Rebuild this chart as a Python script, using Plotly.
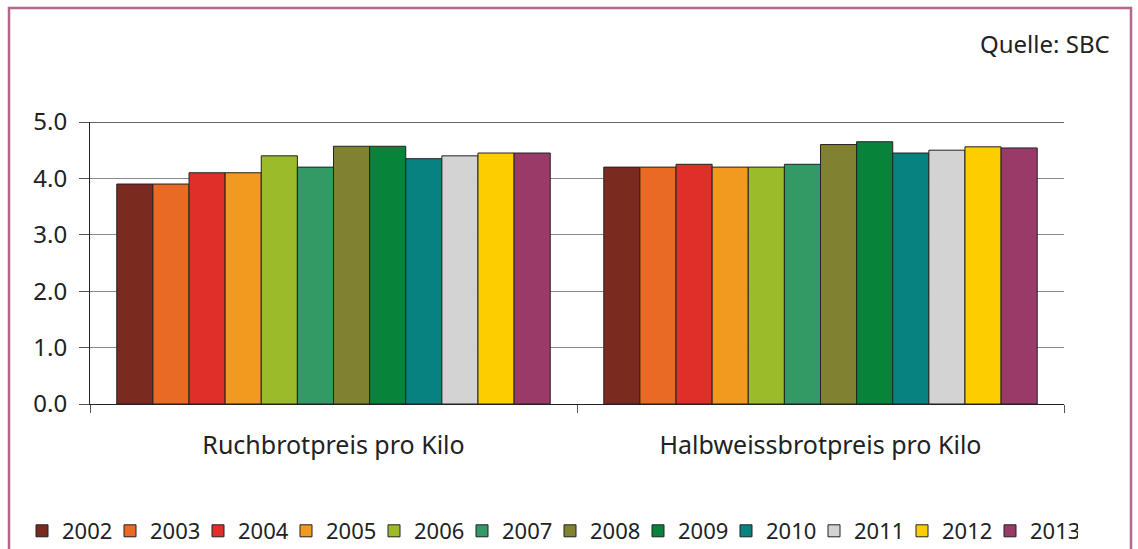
import plotly.graph_objects as go

# Bread price per kilo (CHF), by year
categories = ["Ruchbrotpreis pro Kilo", "Halbweissbrotpreis pro Kilo"]
years = ["2002", "2003", "2004", "2005", "2006", "2007",
         "2008", "2009", "2010", "2011", "2012", "2013"]
ruchbrot = [3.90, 3.90, 4.10, 4.10, 4.40, 4.20, 4.57, 4.57, 4.35, 4.40, 4.45, 4.45]
halbweiss = [4.20, 4.20, 4.25, 4.20, 4.20, 4.25, 4.60, 4.65, 4.45, 4.50, 4.56, 4.54]
colors = ["#7b2a20", "#e86a25", "#e02e28", "#f29a1e", "#9cbb2b", "#339a66",
          "#808230", "#07833a", "#078281", "#d2d3d2", "#fdcd00", "#9a3a68"]
y_ticks = [0, 1, 2, 3, 4, 5]

FONT = "Noto Sans"
TEXT = "#222222"

W, H = 1138, 549
L, R, T, B = 90, 74, 122, 145
pw, ph = W - L - R, H - T - B


def px(x):
    return (x - L) / pw


def py(y):
    return (H - B - y) / ph


fig = go.Figure()
for i, yr in enumerate(years):
    fig.add_trace(go.Bar(
        name=yr,
        x=categories,
        y=[ruchbrot[i], halbweiss[i]],
        marker=dict(color=colors[i], line=dict(color="#222222", width=1)),
    ))

fig.update_layout(
    width=W, height=H,
    margin=dict(l=L, r=R, t=T, b=B, autoexpand=False),
    paper_bgcolor="white", plot_bgcolor="white",
    barmode="group", bargap=0.11, bargroupgap=0,
    font=dict(family=FONT, color=TEXT),
    showlegend=True,
    legend=dict(
        orientation="h", x=px(22), xanchor="left", y=py(531), yanchor="middle",
        font=dict(family=FONT, size=22, color=TEXT),
        entrywidth=43, entrywidthmode="pixels",
        traceorder="normal", bgcolor="rgba(0,0,0,0)",
    ),
    xaxis=dict(
        type="category", tickson="boundaries",
        ticks="outside", ticklen=8, tickcolor="#555555",
        showline=True, linecolor="#222222", linewidth=1,
        showgrid=False, tickfont=dict(family=FONT, size=25, color=TEXT),
        ticklabelstandoff=19,
    ),
    yaxis=dict(
        range=[0, 5], tickvals=y_ticks, tickformat=".1f",
        ticks="outside", ticklen=10, tickcolor="#555555",
        showline=True, linecolor="#222222", linewidth=1,
        showgrid=True, gridcolor="#8a8a8a", gridwidth=1,
        zeroline=False,
        tickfont=dict(family=FONT, size=24, color=TEXT),
        ticklabelstandoff=7,
    ),
    shapes=[
        # top edge of the plot area
        dict(type="line", xref="paper", yref="y", x0=0, x1=1, y0=5, y1=5,
             line=dict(color="#333333", width=1.5)),
        # outer frame
        dict(type="rect", xref="paper", yref="paper",
             x0=px(9), x1=px(1131), y0=-1.0, y1=py(8),
             line=dict(color="#b5668f", width=2.5), layer="below"),
    ],
    annotations=[
        dict(text="Quelle: SBC", xref="paper", yref="paper",
             x=px(1112), y=py(44), xanchor="right", yanchor="middle",
             showarrow=False, font=dict(family=FONT, size=24, color=TEXT)),
    ],
)

fig.write_html("out.html")
